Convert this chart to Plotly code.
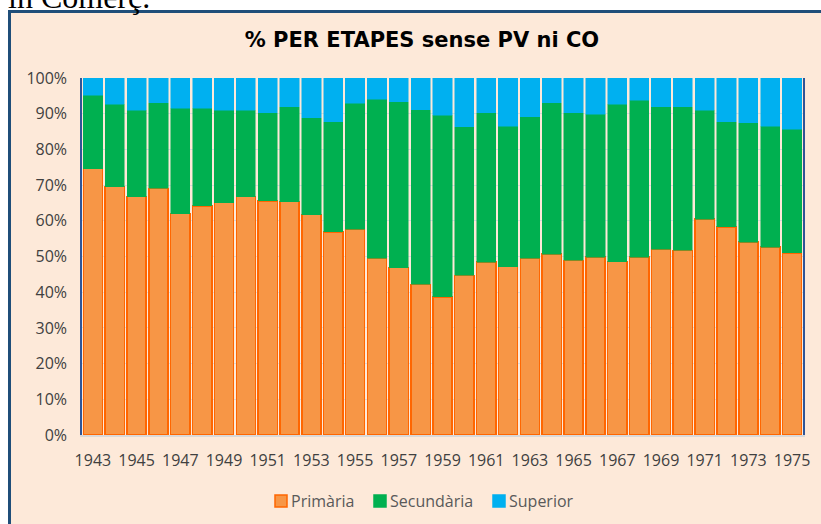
import plotly.graph_objects as go

years = list(range(1943, 1976))
# percentage shares
primaria = [74.6, 69.6, 66.8, 69.1, 62.0, 64.2, 65.1, 66.8, 65.6, 65.4,
            61.7, 56.9, 57.7, 49.5, 46.9, 42.2, 38.7, 44.7, 48.4, 47.2,
            49.5, 50.7, 48.9, 49.8, 48.6, 49.8, 52.1, 51.7, 60.5, 58.3,
            54.0, 52.6, 51.0]
sec_top = [95.1, 92.6, 90.9, 93.1, 91.5, 91.5, 90.9, 90.9, 90.3, 92.0,
           88.8, 87.7, 92.9, 94.0, 93.4, 91.1, 89.5, 86.3, 90.2, 86.5,
           89.1, 93.1, 90.3, 89.8, 92.6, 93.7, 92.0, 92.0, 90.9, 87.7,
           87.4, 86.5, 85.7]
secundaria = [round(s - p, 1) for s, p in zip(sec_top, primaria)]
superior = [round(100 - s, 1) for s in sec_top]

series_names = ["Primària", "Secundària", "Superior"]
fill_colors = ["#F79646", "#00B050", "#00B0F0"]
edge_colors = ["#FF6600", "#00B050", "#00B0F0"]

tick_years = list(range(1943, 1976, 2))
y_ticks = list(range(0, 101, 10))
y_labels = [f"{v}%" for v in y_ticks]

W, H = 821, 524
fx = lambda px: px / W
fy = lambda py: (H - py) / H

fig = go.Figure()
for name, vals, fc, ec, lw in zip(series_names, [primaria, secundaria, superior],
                                  fill_colors, edge_colors, [1.5, 0.5, 0.5]):
    fig.add_trace(go.Bar(x=years, y=vals, name=name, showlegend=False,
                         marker=dict(color=fc, line=dict(color=ec, width=lw))))

# legend drawn manually to match the reference spacing
legend_x = [275, 374, 493]
shapes = [dict(type="rect", xref="paper", yref="paper", x0=fx(9.5), x1=1.02,
               y0=-0.02, y1=fy(11.5), fillcolor="#FDE9D9",
               line=dict(color="#1F4E79", width=3), layer="below")]
annotations = [dict(text="in Comerç.", xref="paper", yref="paper", x=fx(6), xanchor="left",
                    y=fy(17), yanchor="bottom", showarrow=False,
                    font=dict(family="Liberation Serif", size=32, color="black"))]
for lx, name, fc, ec in zip(legend_x, series_names, fill_colors, edge_colors):
    shapes.append(dict(type="rect", xref="paper", yref="paper", x0=fx(lx), x1=fx(lx + 12),
                       y0=fy(507), y1=fy(495), fillcolor=fc, line=dict(color=ec, width=1.5),
                       layer="above"))
    annotations.append(dict(text=name, xref="paper", yref="paper", x=fx(lx + 14), xanchor="left",
                            y=fy(501), yanchor="middle", showarrow=False,
                            font=dict(family="Open Sans", size=16, color="#595959")))

fig.update_layout(
    width=W, height=H,
    barmode="stack", bargap=0.12,
    margin=dict(l=0, r=0, t=0, b=0, autoexpand=False),
    paper_bgcolor="white",
    plot_bgcolor="#FFFDE0",
    font=dict(family="Open Sans", color="#404040"),
    title=dict(text="<b>% PER ETAPES sense PV ni CO</b>", x=fx(422), xanchor="center",
               y=fy(40), yanchor="middle", font=dict(size=21, color="black", family="DejaVu Sans")),
    xaxis=dict(domain=[fx(82), fx(803)], range=[1942.5, 1975.5], tickmode="array",
               tickvals=tick_years, ticktext=[str(y) for y in tick_years], automargin=False,
               showgrid=False, showline=True, linecolor="#D9D9D9", linewidth=1.5,
               tickfont=dict(size=16, color="#404040"), ticks="outside", ticklen=10,
               tickcolor="rgba(0,0,0,0)"),
    yaxis=dict(domain=[fy(435), fy(78)], range=[0, 100], tickmode="array", automargin=False,
               tickvals=y_ticks, ticktext=y_labels, showgrid=True, gridcolor="#D9D9D9",
               showline=True, linecolor="#2F5597", linewidth=1.5, mirror=True,
               tickfont=dict(size=16, color="#404040"), zeroline=False,
               ticks="outside", ticklen=10, tickcolor="rgba(0,0,0,0)"),
    shapes=shapes,
    annotations=annotations,
)

fig.write_html("out.html", config={"displayModeBar": False},
               post_script="document.body.style.margin='0px';document.body.style.overflow='hidden';")
